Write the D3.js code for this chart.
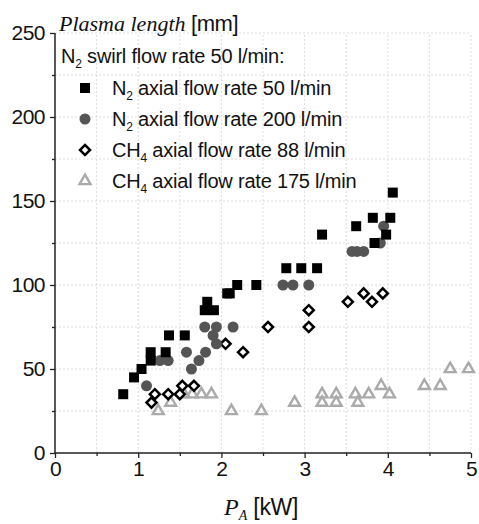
<!DOCTYPE html>
<html>
<head>
<meta charset="utf-8">
<script src="https://cdn.jsdelivr.net/npm/d3@7"></script>
<style>
  body { margin: 0; background: #fff; }
  text { font-family: "Liberation Sans", Arial, sans-serif; }
</style>
</head>
<body>
<div id="chart"></div>
<script>
// data: [P_A in kW, plasma length in mm]
var n2Axial50 = [[0.82,35],[0.95,45],[1.04,50],[1.15,55],[1.15,60],[1.33,60],[1.37,70],[1.56,70],
    [1.80,85],[1.83,90],[1.91,85],[2.07,95],[2.10,95],[2.19,100],[2.42,100],[2.78,110],[2.96,110],
    [3.15,110],[3.21,130],[3.62,135],[3.82,140],[4.03,140],[4.06,155],[3.98,130],[3.84,125]];
var n2Axial200 = [[1.10,40],[1.26,55],[1.36,55],[1.58,60],[1.64,50],[1.73,55],[1.81,60],[1.80,75],
    [1.90,70],[1.94,65],[1.94,75],[2.14,75],[2.74,100],[2.86,100],[3.05,100],[3.57,120],[3.63,120],
    [3.71,120],[3.91,125],[3.95,135]];
var ch4Axial88 = [[1.16,30],[1.20,35],[1.36,35],[1.50,35],[1.53,40],[1.67,40],[2.05,65],[2.26,60],
    [2.56,75],[3.05,75],[3.05,85],[3.52,90],[3.71,95],[3.81,90],[3.94,95]];
var ch4Axial175 = [[1.24,25],[1.39,30],[1.55,35],[1.65,35],[1.76,35],[1.88,35],[2.12,25],[2.48,25],
    [2.88,30],[3.21,35],[3.21,30],[3.38,35],[3.38,30],[3.61,35],[3.64,30],[3.77,35],[3.92,40],
    [4.02,35],[4.44,40],[4.63,40],[4.75,50],[4.97,50]];

var xTicks = [0, 1, 2, 3, 4, 5];
var yTicks = [0, 50, 100, 150, 200, 250];
var legendLabels = ["50 l/min", "200 l/min", "88 l/min", "175 l/min"];
var legendGas = ["N", "N", "CH", "CH"];

var width = 479, height = 524;
var svg = d3.select("#chart").append("svg")
    .attr("width", width)
    .attr("height", height);

var x = d3.scaleLinear().domain([0, 5]).range([55, 471]);
var y = d3.scaleLinear().domain([0, 250]).range([453, 33]);

//dotted grid every 0.5 kW and 25 mm
var grid = svg.append("g");
grid.selectAll(".gx")
    .data(d3.range(0.5, 5.01, 0.5))
    .enter().append("line")
    .attr("x1", function(d) { return x(d); })
    .attr("x2", function(d) { return x(d); })
    .attr("y1", y(0))
    .attr("y2", y(250))
    .style("stroke", "#ddd")
    .style("stroke-dasharray", "2,2");
grid.selectAll(".gy")
    .data(d3.range(25, 251, 25))
    .enter().append("line")
    .attr("x1", x(0))
    .attr("x2", x(5))
    .attr("y1", function(d) { return y(d); })
    .attr("y2", function(d) { return y(d); })
    .style("stroke", "#ddd")
    .style("stroke-dasharray", "2,2");

//axes: major ticks with labels, minor ticks in between
var xAxis = svg.append("g")
    .attr("transform", "translate(0," + y(0) + ")")
    .call(d3.axisBottom(x).tickValues(xTicks).tickFormat(d3.format("d")).tickSize(5).tickPadding(3));
svg.append("g")
    .attr("transform", "translate(0," + y(0) + ")")
    .call(d3.axisBottom(x).tickValues(d3.range(0.5, 5, 1)).tickFormat("").tickSize(3))
    .select(".domain").remove();
var yAxis = svg.append("g")
    .attr("transform", "translate(" + x(0) + ",0)")
    .call(d3.axisLeft(y).tickValues(yTicks).tickSize(5).tickPadding(5));
svg.append("g")
    .attr("transform", "translate(" + x(0) + ",0)")
    .call(d3.axisLeft(y).tickValues(d3.range(25, 250, 50)).tickFormat("").tickSize(3))
    .select(".domain").remove();

svg.selectAll(".domain").style("stroke", "#222").style("stroke-width", 1.5);
svg.selectAll(".tick line").style("stroke", "#222").style("stroke-width", 1.3);
svg.selectAll(".tick text")
    .style("font-family", "'Liberation Sans', Arial, sans-serif")
    .style("font-size", "21px")
    .style("letter-spacing", "-0.5px")
    .style("fill", "#111");
xAxis.selectAll(".domain").attr("d", "M" + x(0) + ",0H" + x(5));
yAxis.selectAll(".domain").attr("d", "M0," + y(0) + "V" + y(250));

//markers
var sym = {
    square: d3.symbol().type(d3.symbolSquare).size(100),
    circle: d3.symbol().type(d3.symbolCircle).size(95),
    diamond: d3.symbol().type(d3.symbolDiamond2).size(64),
    triangle: d3.symbol().type(d3.symbolTriangle2).size(85)
};
var series = [
    { data: ch4Axial175, shape: "triangle", fill: "none", stroke: "#aaa", sw: 2.4 },
    { data: ch4Axial88, shape: "diamond", fill: "#fff", stroke: "#000", sw: 2.5 },
    { data: n2Axial200, shape: "circle", fill: "#555", stroke: "none", sw: 0 },
    { data: n2Axial50, shape: "square", fill: "#000", stroke: "none", sw: 0 }
];
series.forEach(function(s) {
    svg.append("g").selectAll("path")
        .data(s.data)
        .enter().append("path")
        .attr("d", sym[s.shape])
        .attr("transform", function(d) { return "translate(" + x(d[0]) + "," + y(d[1]) + ")"; })
        .style("fill", s.fill)
        .style("stroke", s.stroke)
        .style("stroke-width", s.sw);
});

//y title
var yt = svg.append("text").attr("x", 59).attr("y", 31).style("fill", "#111");
yt.append("tspan").text("Plasma length")
    .style("font-family", "'Liberation Serif', 'Times New Roman', serif")
    .style("font-style", "italic")
    .style("font-size", "22px");
yt.append("tspan").text(" [mm]").style("font-size", "22px").style("letter-spacing", "-0.5px");

//x title
var xt = svg.append("text").attr("x", 224).attr("y", 515).style("fill", "#111");
xt.append("tspan").text("P")
    .style("font-family", "'Liberation Serif', 'Times New Roman', serif")
    .style("font-style", "italic")
    .style("font-size", "24px");
xt.append("tspan").text("A").attr("dy", 5)
    .style("font-family", "'Liberation Serif', 'Times New Roman', serif")
    .style("font-style", "italic")
    .style("font-size", "14px");
xt.append("tspan").text(" [kW]").attr("dy", -5).style("font-size", "23px").style("letter-spacing", "-0.3px");

//legend
var legend = svg.append("g");
var head = legend.append("text").attr("x", 61).attr("y", 63)
    .style("font-size", "20px").style("letter-spacing", "-0.2px").style("fill", "#111");
head.append("tspan").text("N");
head.append("tspan").text("2").attr("dy", 5).style("font-size", "12px");
head.append("tspan").text(" swirl flow rate 50 l/min:").attr("dy", -5);

var rows = legend.selectAll(".row")
    .data(series.slice().reverse())
    .enter().append("g")
    .attr("transform", function(d, i) { return "translate(0," + (88 + i * 31) + ")"; });
rows.append("path")
    .attr("d", function(d) { return sym[d.shape](); })
    .attr("transform", "translate(85,0)")
    .style("fill", function(d) { return d.fill; })
    .style("stroke", function(d) { return d.stroke; })
    .style("stroke-width", function(d) { return d.sw; });
var rt = rows.append("text").attr("x", 112).attr("y", 7)
    .style("font-size", "20px").style("letter-spacing", "-0.2px").style("fill", "#111");
rt.append("tspan").text(function(d, i) { return legendGas[i]; });
rt.append("tspan").text(function(d, i) { return i < 2 ? "2" : "4"; }).attr("dy", 5).style("font-size", "12px");
rt.append("tspan").text(function(d, i) { return " axial flow rate " + legendLabels[i]; }).attr("dy", -5);
</script>
</body>
</html>
